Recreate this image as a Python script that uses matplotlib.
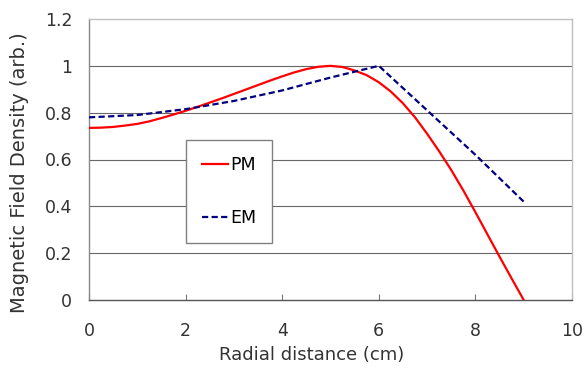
import matplotlib
matplotlib.use("Agg")
import matplotlib.pyplot as plt

plt.rcParams['font.family'] = ['DejaVu Sans']

# values
pm_x = [0, 0.25, 0.5, 0.75, 1, 1.25, 1.5, 1.75, 2, 2.25, 2.5, 2.75, 3, 3.25,
        3.5, 3.75, 4, 4.25, 4.5, 4.75, 5, 5.25, 5.5, 5.75, 6, 6.25, 6.5, 6.75,
        7, 7.25, 7.5, 7.75, 8, 8.25, 8.5, 8.75, 9]
pm_y = [0.735, 0.736, 0.739, 0.745, 0.752, 0.763, 0.777, 0.792, 0.808, 0.825,
        0.843, 0.861, 0.88, 0.899, 0.918, 0.937, 0.955, 0.972, 0.986, 0.996,
        1.0, 0.995, 0.98, 0.96, 0.93, 0.89, 0.84, 0.78, 0.71, 0.635, 0.555,
        0.468, 0.375, 0.28, 0.185, 0.092, 0.0]
em_x = [0, 1, 2, 3, 4, 5, 6, 7, 8, 9]
em_y = [0.78, 0.79, 0.815, 0.85, 0.895, 0.95, 1.0, 0.81, 0.62, 0.42]

x_ticks = [0, 2, 4, 6, 8, 10]
y_ticks = [0, 0.2, 0.4, 0.6, 0.8, 1.0, 1.2]
y_labels = ['0', '0.2', '0.4', '0.6', '0.8', '1', '1.2']

fig = plt.figure(figsize=(5.86, 3.68), dpi=100)
ax = fig.add_axes([89 / 586, 1 - 300 / 368, 483 / 586, 281 / 368])

ax.plot(pm_x, pm_y, color='#ff0000', lw=1.6, label='PM', zorder=3)
ax.plot(em_x, em_y, color='#000080', lw=1.6, ls=(0, (2.8, 1.5)), label='EM', zorder=3)

ax.set_xlim(0, 10)
ax.set_ylim(0, 1.2)
ax.set_xticks(x_ticks)
ax.set_yticks(y_ticks)
ax.set_yticklabels(y_labels)
for y in y_ticks[1:-1]:
    ax.axhline(y, color='#666666', lw=0.8, zorder=1)

ax.tick_params(axis='x', direction='in', length=4, color='#777777',
               labelsize=12.5, labelcolor='#333333', pad=16)
ax.tick_params(axis='y', length=0, labelsize=12.5, labelcolor='#333333', pad=12)

ax.spines['left'].set_color('#888888')
ax.spines['bottom'].set_color('#555555')
ax.spines['top'].set_color('#c0c0c0')
ax.spines['right'].set_color('#c0c0c0')
for s in ax.spines.values():
    s.set_linewidth(1.0)

ax.set_xlabel('Radial distance (cm)', fontsize=13, color='#333333')
ax.xaxis.set_label_coords(0.46, -0.165)
ax.set_ylabel('Magnetic Field Density (arb.)', fontsize=14, color='#333333')
ax.yaxis.set_label_coords(-0.125, 0.452)

leg = ax.legend(loc='upper left', bbox_to_anchor=(97 / 483, 160 / 281),
                fontsize=12.5, frameon=True, fancybox=False, framealpha=1,
                edgecolor='#808080', handlelength=1.5, handletextpad=0.15,
                labelspacing=2.05, borderpad=0.9, borderaxespad=0)
leg.get_frame().set_linewidth(1.0)

fig.savefig('out.png', dpi=100)
